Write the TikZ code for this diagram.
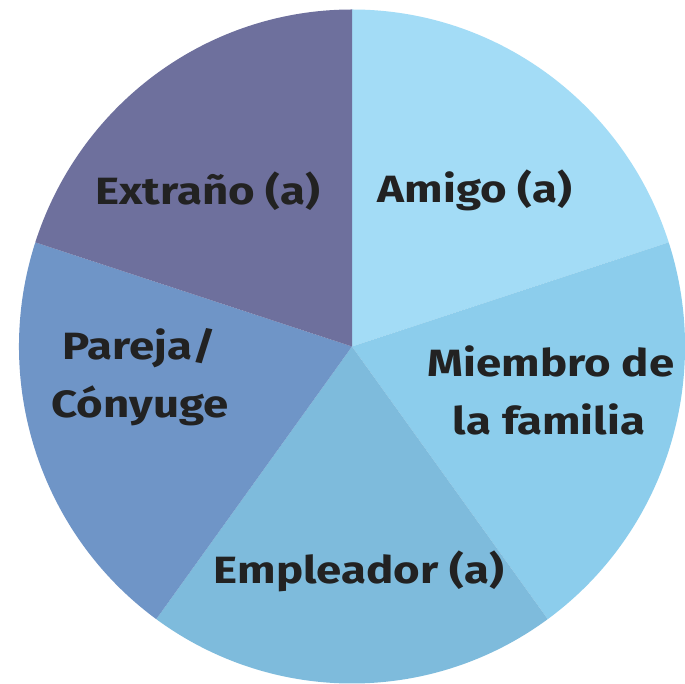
\documentclass[tikz,border=0pt]{standalone}
\usepackage{fontspec}
\setmainfont{Fira Sans}[FakeStretch=1.2]
\definecolor{cAmigo}{HTML}{A3DCF6}
\definecolor{cMiembro}{HTML}{8CCDEC}
\definecolor{cEmpleador}{HTML}{7EBBDC}
\definecolor{cPareja}{HTML}{6F95C7}
\definecolor{cExtrano}{HTML}{6E709D}
\definecolor{txt}{HTML}{222222}
\tikzset{
  lbl/.style={font=\fontsize{38}{58}\selectfont\bfseries, text=txt, align=center, inner sep=0pt},
}
\begin{document}
\begin{tikzpicture}[x=1pt,y=1pt]
\useasboundingbox (0,0) rectangle (685,683);
\fill[white] (0,0) rectangle (685,683);
\coordinate (c) at (352,336.5);
\fill[cAmigo] (c) -- ++(18:333 and 337) arc[start angle=18, end angle=90, x radius=333, y radius=337] -- cycle;
\fill[cMiembro] (c) -- ++(-54:333 and 337) arc[start angle=-54, end angle=18, x radius=333, y radius=337] -- cycle;
\fill[cEmpleador] (c) -- ++(-126:333 and 337) arc[start angle=-126, end angle=-54, x radius=333, y radius=337] -- cycle;
\fill[cPareja] (c) -- ++(162:333 and 337) arc[start angle=162, end angle=234, x radius=333, y radius=337] -- cycle;
\fill[cExtrano] (c) -- ++(90:333 and 337) arc[start angle=90, end angle=162, x radius=333, y radius=337] -- cycle;
\node[lbl, anchor=base] (extrano) at (208,478) {Extraño (a)};
\node[lbl, anchor=base] (amigo) at (475,480) {Amigo (a)};
\node[lbl, anchor=base] (miembro1) at (551,306) {Miembro de};
\node[lbl, anchor=base] (miembro2) at (549,248) {la familia};
\node[lbl, anchor=base] (pareja1) at (139,323) {Pareja/};
\node[lbl, anchor=base] (pareja2) at (140,265) {Cónyuge};
\node[lbl, anchor=base] (empleador) at (359,100) {Empleador (a)};
\end{tikzpicture}
\end{document}
